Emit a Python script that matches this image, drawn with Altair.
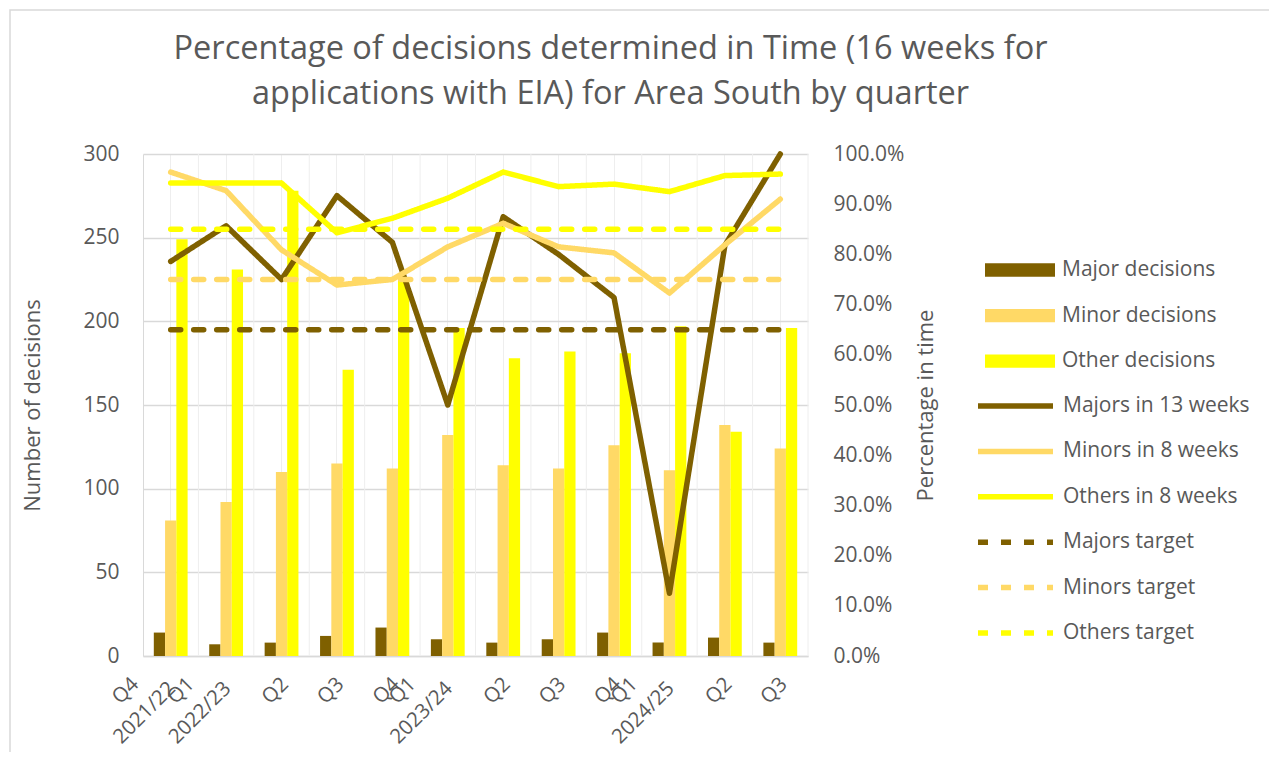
import altair as alt
import pandas as pd

# ---------------- data ----------------
periods = ["2021/22 Q4", "2022/23 Q1", "2022/23 Q2", "2022/23 Q3", "2022/23 Q4",
           "2023/24 Q1", "2023/24 Q2", "2023/24 Q3", "2023/24 Q4",
           "2024/25 Q1", "2024/25 Q2", "2024/25 Q3"]
quarter_labels = ["Q4", "Q1", "Q2", "Q3", "Q4", "Q1", "Q2", "Q3", "Q4", "Q1", "Q2", "Q3"]
year_labels = ["2021/22", "2022/23", "", "", "", "2023/24", "", "", "", "2024/25", "", ""]

major_decisions = [14, 7, 8, 12, 17, 10, 8, 10, 14, 8, 11, 8]
minor_decisions = [81, 92, 110, 115, 112, 132, 114, 112, 126, 111, 138, 124]
other_decisions = [249, 231, 278, 171, 226, 196, 178, 182, 181, 197, 134, 196]

majors_13_weeks = [0.786, 0.857, 0.750, 0.917, 0.824, 0.500, 0.875, 0.800, 0.714, 0.125, 0.818, 1.000]
minors_8_weeks = [0.964, 0.927, 0.809, 0.739, 0.750, 0.815, 0.862, 0.815, 0.803, 0.723, 0.819, 0.910]
others_8_weeks = [0.942, 0.942, 0.942, 0.843, 0.872, 0.912, 0.964, 0.935, 0.940, 0.925, 0.957, 0.960]
majors_target = [0.65] * 12
minors_target = [0.75] * 12
others_target = [0.85] * 12

bar_names = ["Major decisions", "Minor decisions", "Other decisions"]
bar_colors = ["#7F6000", "#FFD966", "#FFFF00"]
line_names = ["Majors in 13 weeks", "Minors in 8 weeks", "Others in 8 weeks",
              "Majors target", "Minors target", "Others target"]
line_colors = ["#7F6000", "#FFD966", "#FFFF00", "#7F6000", "#FFD966", "#FFFF00"]
line_dashes = [[1, 0], [1, 0], [1, 0], [10, 13], [10, 13], [10, 13]]

# ---------------- tables ----------------
bar_rows = []
for name, vals in zip(bar_names, [major_decisions, minor_decisions, other_decisions]):
    for p, v in zip(periods, vals):
        bar_rows.append({"period": p, "series": name, "value": v})
bars_df = pd.DataFrame(bar_rows)

line_rows = []
for order, (name, vals) in enumerate(zip(line_names, [majors_13_weeks, minors_8_weeks, others_8_weeks,
                                                      majors_target, minors_target, others_target])):
    for p, v in zip(periods, vals):
        line_rows.append({"period": p, "series": name, "pct": v, "order": order})
lines_df = pd.DataFrame(line_rows)

labels_df = pd.DataFrame({"period": periods, "quarter": quarter_labels, "year": year_labels})

# ---------------- layout ----------------
W, H = 665, 502
FONT = "Open Sans"
TXT = "#595959"
PAD_IN = 0.39
STEP = W / 12.0
HALF_GAP = PAD_IN * STEP / 2
LW = 5.5

x_axis = alt.Axis(labels=False, ticks=False, title=None, domainColor="#D9D9D9",
                  domainWidth=1.5, grid=True, gridColor="#EEEEEE", gridWidth=1)
x_scale = alt.Scale(paddingInner=PAD_IN, paddingOuter=PAD_IN / 2)
x_enc = alt.X("period:N", sort=periods, scale=x_scale, axis=x_axis)

frame = alt.Chart(pd.DataFrame({"k": [0]})).mark_rect(
    fillOpacity=0, stroke="#D9D9D9", strokeWidth=1.5
).encode(x=alt.value(-133), x2=alt.value(1131), y=alt.value(-144), y2=alt.value(640))

grid_rules = alt.Chart(labels_df).mark_rule(color="#EEEEEE", strokeWidth=1, xOffset=HALF_GAP).encode(
    x=alt.X("period:N", sort=periods, bandPosition=1, scale=x_scale, axis=x_axis),
    y=alt.value(0), y2=alt.value(H),
)

bars = alt.Chart(bars_df).mark_bar().encode(
    x=x_enc,
    xOffset=alt.XOffset("series:N", sort=bar_names, scale=alt.Scale(paddingInner=0, paddingOuter=0)),
    y=alt.Y("value:Q", scale=alt.Scale(domain=[0, 300], nice=False),
            axis=alt.Axis(orient="left", values=[0, 50, 100, 150, 200, 250, 300],
                          title="Number of decisions", grid=True, gridColor="#D9D9D9",
                          gridWidth=1.5, ticks=False, domain=True, domainColor="#D9D9D9",
                          labelPadding=24, titlePadding=38)),
    fill=alt.Fill("series:N", sort=bar_names,
                  scale=alt.Scale(domain=bar_names, range=bar_colors),
                  legend=alt.Legend(title=None, orient="none", legendX=842, legendY=106,
                                    symbolType="M-1,-0.19H1V0.19H-1Z", symbolSize=4900,
                                    symbolStrokeWidth=0, clipHeight=20, rowPadding=24.6,
                                    labelOffset=7, padding=0, labelLimit=320)),
)

line_legend = alt.Legend(title=None, orient="none", legendX=832, legendY=242,
                         symbolType="stroke", symbolSize=5625, symbolStrokeWidth=LW,
                         clipHeight=20, rowPadding=24.4, labelOffset=7, padding=0,
                         labelLimit=320)

lines = alt.Chart(lines_df).mark_line(strokeWidth=LW, strokeCap="round", strokeJoin="round").encode(
    x=x_enc,
    y=alt.Y("pct:Q", scale=alt.Scale(domain=[0, 1], nice=False),
            axis=alt.Axis(orient="right", values=[i / 10 for i in range(11)], format=".1%",
                          title="Percentage in time", titleAngle=270, titleBaseline="top",
                          grid=False, ticks=False, domain=False, labelPadding=25,
                          titlePadding=12)),
    stroke=alt.Stroke("series:N", sort=line_names,
                      scale=alt.Scale(domain=line_names, range=line_colors), legend=line_legend),
    strokeDash=alt.StrokeDash("series:N", sort=line_names,
                              scale=alt.Scale(domain=line_names, range=line_dashes), legend=line_legend),
    order=alt.Order("order:Q"),
)

q_single = alt.Chart(labels_df).transform_filter("datum.year == ''").mark_text(
    angle=315, align="center", baseline="middle", dx=-4.2, dy=-4.2,
    fontSize=20.5, font=FONT, color=TXT
).encode(x=x_enc, y=alt.value(H + 35), text="quarter:N")

q_double = alt.Chart(labels_df).transform_filter("datum.year != ''").mark_text(
    angle=315, align="center", baseline="middle", dx=-31.8, dy=-31.8,
    fontSize=20.5, font=FONT, color=TXT
).encode(x=x_enc, y=alt.value(H + 35), text="quarter:N")

y_labels = alt.Chart(labels_df).transform_filter("datum.year != ''").mark_text(
    angle=315, align="center", baseline="middle", dx=-33.9, dy=-2.8,
    fontSize=20.5, font=FONT, color=TXT
).encode(x=x_enc, y=alt.value(H + 35), text="year:N")

chart = alt.layer(frame, grid_rules, bars, lines, q_single, q_double, y_labels).resolve_scale(
    y="independent"
).properties(
    width=W, height=H,
    title=alt.TitleParams(
        text=["Percentage of decisions determined in Time (16 weeks for",
              "applications with EIA) for Area South by quarter"],
        anchor="middle", dx=135, offset=-127, baseline="alphabetic", lineHeight=45,
        fontSize=32.5, font=FONT, fontWeight="normal", color=TXT),
    autosize=alt.AutoSizeParams(type="none"),
    padding={"left": 135, "top": 146, "right": 461, "bottom": 96},
).configure_view(stroke=None).configure_axis(
    labelFont=FONT, labelFontSize=21, labelColor=TXT,
    titleFont=FONT, titleFontSize=22, titleColor=TXT, titleFontWeight="normal",
).configure_legend(
    labelFont=FONT, labelFontSize=21, labelColor=TXT, labelBaseline="middle",
)

chart.save("out.html", embed_options={"renderer": "svg", "actions": False})
